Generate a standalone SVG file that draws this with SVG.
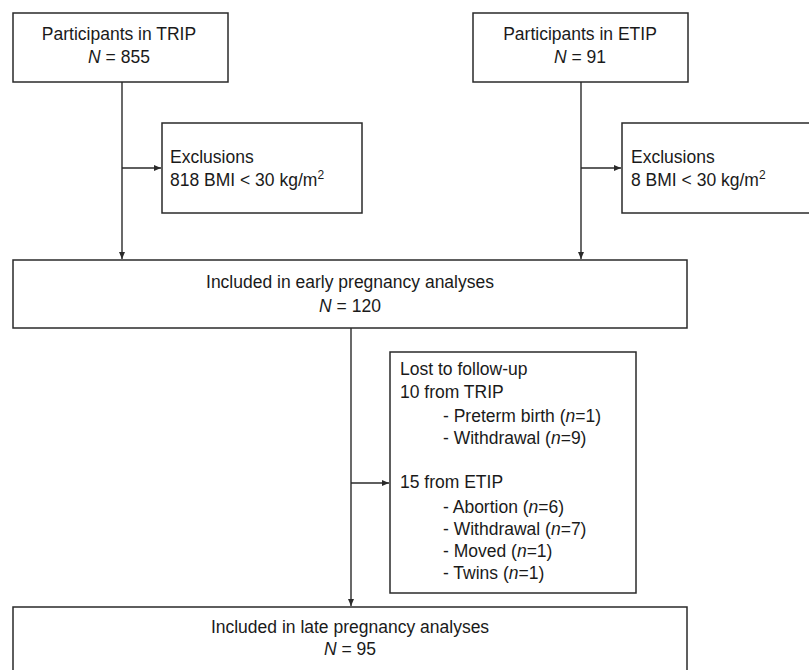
<svg xmlns="http://www.w3.org/2000/svg" width="809" height="670" viewBox="0 0 809 670">
<style>
.box{fill:#fff;stroke:#2a2a2a;stroke-width:1.5}
.t{font-family:"Liberation Sans",Arial,sans-serif;font-size:17.5px;fill:#1a1a1a}
.c{text-anchor:middle}
.i{font-style:italic}
.ln{stroke:#2a2a2a;stroke-width:1.4;fill:none}
</style>
<defs>
<marker id="ah" markerWidth="8" markerHeight="8" refX="7" refY="4" orient="auto" markerUnits="userSpaceOnUse">
<path d="M0,1 L7,4 L0,7 Z" fill="#2a2a2a"/>
</marker>
</defs>
<rect width="809" height="670" fill="#fff"/>
<g id="connectors">
<line class="ln" x1="122" y1="82" x2="122" y2="259" marker-end="url(#ah)"/>
<line class="ln" x1="122" y1="168" x2="161" y2="168" marker-end="url(#ah)"/>
<line class="ln" x1="581" y1="82" x2="581" y2="259" marker-end="url(#ah)"/>
<line class="ln" x1="581" y1="168" x2="621" y2="168" marker-end="url(#ah)"/>
<line class="ln" x1="351" y1="328" x2="351" y2="606" marker-end="url(#ah)"/>
<line class="ln" x1="351" y1="483" x2="389" y2="483" marker-end="url(#ah)"/>
</g>
<g id="trip">
<rect class="box" x="13" y="13" width="215" height="69"/>
<text class="t c" x="119" y="40">Participants in TRIP</text>
<text class="t c" x="119" y="63"><tspan class="i">N</tspan> = 855</text>
</g>
<g id="etip">
<rect class="box" x="473" y="13" width="215" height="69"/>
<text class="t c" x="580" y="40">Participants in ETIP</text>
<text class="t c" x="580" y="63"><tspan class="i">N</tspan> = 91</text>
</g>
<g id="excl-trip">
<rect class="box" x="162" y="123" width="200" height="90"/>
<text class="t" x="170" y="163">Exclusions</text>
<text class="t" x="170" y="186">818 BMI &lt; 30 kg/m<tspan font-size="12" dy="-7">2</tspan></text>
</g>
<g id="excl-etip">
<rect class="box" x="622" y="123" width="200" height="90"/>
<text class="t" x="631" y="163">Exclusions</text>
<text class="t" x="631" y="186">8 BMI &lt; 30 kg/m<tspan font-size="12" dy="-7">2</tspan></text>
</g>
<g id="early">
<rect class="box" x="13" y="260" width="674" height="68"/>
<text class="t c" x="350" y="288">Included in early pregnancy analyses</text>
<text class="t c" x="350" y="312"><tspan class="i">N</tspan> = 120</text>
</g>
<g id="lost">
<rect class="box" x="390" y="352" width="246" height="241"/>
<text class="t" x="400" y="375">Lost to follow-up</text>
<text class="t" x="400" y="398">10 from TRIP</text>
<text class="t" x="443" y="422">- Preterm birth (<tspan class="i">n</tspan>=1)</text>
<text class="t" x="443" y="444">- Withdrawal (<tspan class="i">n</tspan>=9)</text>
<text class="t" x="400" y="488">15 from ETIP</text>
<text class="t" x="443" y="513">- Abortion (<tspan class="i">n</tspan>=6)</text>
<text class="t" x="443" y="535">- Withdrawal (<tspan class="i">n</tspan>=7)</text>
<text class="t" x="443" y="557">- Moved (<tspan class="i">n</tspan>=1)</text>
<text class="t" x="443" y="579">- Twins (<tspan class="i">n</tspan>=1)</text>
</g>
<g id="late">
<rect class="box" x="13" y="607" width="674" height="80"/>
<text class="t c" x="350" y="633">Included in late pregnancy analyses</text>
<text class="t c" x="350" y="655"><tspan class="i">N</tspan> = 95</text>
</g>
</svg>
